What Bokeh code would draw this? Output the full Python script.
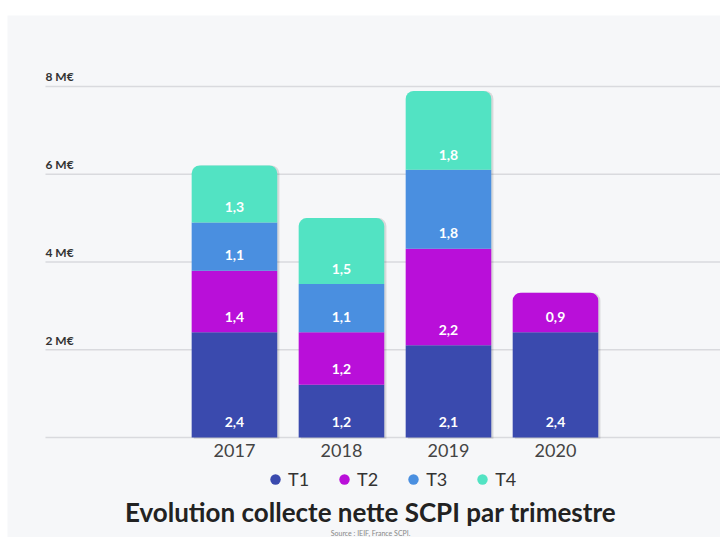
from bokeh.plotting import figure
from bokeh.models import ColumnDataSource, Legend, LegendItem, Range1d
from bokeh.core.properties import value
from bokeh.embed import file_html
from bokeh.resources import INLINE

# ---- data ----
years = ["2017", "2018", "2019", "2020"]
quarters = ["T1", "T2", "T3", "T4"]
t1 = [2.4, 1.2, 2.1, 2.4]
t2 = [1.4, 1.2, 2.2, 0.9]
t3 = [1.1, 1.1, 1.8, 0.0]
t4 = [1.3, 1.5, 1.8, 0.0]
y_ticks = [0, 2, 4, 6, 8]
y_tick_labels = ["", "2 M€", "4 M€", "6 M€", "8 M€"]
title_text = "Evolution collecte nette SCPI par trimestre"
source_text = "Source : IEIF, France SCPI."

# ---- style ----
colors = ["#3a4aae", "#b90fd9", "#4a8fe0", "#52e3c3"]
BG = "#f6f7f9"
FONT = "Lato"
X_START, X_END = -2.121, 4.542
Y_START, Y_END = -2.279, 9.618
GRID_X0 = -1.766
BAR_W = 0.80
LABEL_LIFT = 0.35
YEAR_Y = -0.296
TITLE_X, TITLE_Y, SOURCE_Y = 1.272, -1.70, -2.17
NAN = float("nan")

p = figure(width=720, height=537,
           x_range=Range1d(X_START, X_END), y_range=Range1d(Y_START, Y_END),
           output_backend="svg", toolbar_location=None,
           min_border_left=7, min_border_right=0, min_border_top=15, min_border_bottom=0,
           background_fill_color=BG, border_fill_color="white", outline_line_color=None)

p.xaxis.visible = False
p.yaxis.visible = False
p.xgrid.visible = False
p.ygrid.visible = False

# horizontal grid lines (start right of the panel edge, as in the original)
n = len(y_ticks)
p.segment(x0=[GRID_X0] * n, y0=y_ticks, x1=[X_END] * n, y1=y_ticks,
          line_color="#d9dade", line_width=1.5)

# y tick labels sitting on the grid lines
p.text(x=[GRID_X0] * n, y=y_ticks, text=y_tick_labels,
       text_font=value(FONT), text_font_style="bold", text_font_size="12px",
       text_color="#333333", text_align="left", text_baseline="bottom", y_offset=-2)

# year labels
p.text(x=list(range(len(years))), y=[YEAR_Y] * len(years), text=years,
       text_font=value(FONT), text_font_size="18px", text_color="#444444",
       text_align="center", text_baseline="middle")

# ---- segments ----
series = [t1, t2, t3, t4]
body = dict(x=[], bottom=[], top=[], color=[])
tops = dict(x=[], bottom=[], top=[], color=[])
lab = dict(x=[], y=[], text=[])
shadow = dict(x=[], top=[])
for i, yr in enumerate(years):
    vals = [s[i] for s in series]
    last = max(k for k, v in enumerate(vals) if v > 0)
    base = 0.0
    for k, v in enumerate(vals):
        if v <= 0:
            continue
        d = tops if k == last else body
        d["x"].append(i)
        d["bottom"].append(base)
        d["top"].append(base + v)
        d["color"].append(colors[k])
        lab["x"].append(i)
        lab["y"].append(base + LABEL_LIFT)
        lab["text"].append(f"{v:.1f}".replace(".", ","))
        base += v
    shadow["x"].append(i + 0.02)
    shadow["top"].append(base)

p.vbar(x="x", top="top", bottom=-0.03, width=BAR_W, source=ColumnDataSource(shadow),
       fill_color="#000000", fill_alpha=0.12, line_color=None, border_radius=(8, 8, 0, 0))
p.vbar(x="x", top="top", bottom="bottom", width=BAR_W, source=ColumnDataSource(body),
       fill_color="color", line_color=None)
p.vbar(x="x", top="top", bottom="bottom", width=BAR_W, source=ColumnDataSource(tops),
       fill_color="color", line_color=None, border_radius=(8, 8, 0, 0))
p.text(x="x", y="y", text="text", source=ColumnDataSource(lab),
       text_font=value(FONT), text_font_style="bold", text_font_size="14px",
       text_color="white", text_align="center", text_baseline="middle")

# ---- legend ----
items = []
for q, c in zip(quarters, colors):
    r = p.scatter(x=[NAN], y=[NAN], marker="circle", size=11, fill_color=c, line_color=None)
    items.append(LegendItem(label=q, renderers=[r]))
legend = Legend(items=items, orientation="horizontal", location=(255, 45),
                background_fill_alpha=0, border_line_color=None,
                label_text_font=FONT, label_text_font_size="18px", label_text_color="#333333",
                glyph_width=26, glyph_height=26, label_standoff=0, spacing=22,
                padding=0, margin=0)
p.add_layout(legend)

# ---- title and source ----
p.text(x=[TITLE_X], y=[TITLE_Y], text=[title_text],
       text_font=value(FONT), text_font_style="bold", text_font_size="26px",
       text_color="#222222", text_align="center", text_baseline="middle")
p.text(x=[TITLE_X], y=[SOURCE_Y], text=[source_text],
       text_font=value(FONT), text_font_size="7px",
       text_color="#888888", text_align="center", text_baseline="middle")

open("out.html", "w").write(file_html(p, INLINE))
